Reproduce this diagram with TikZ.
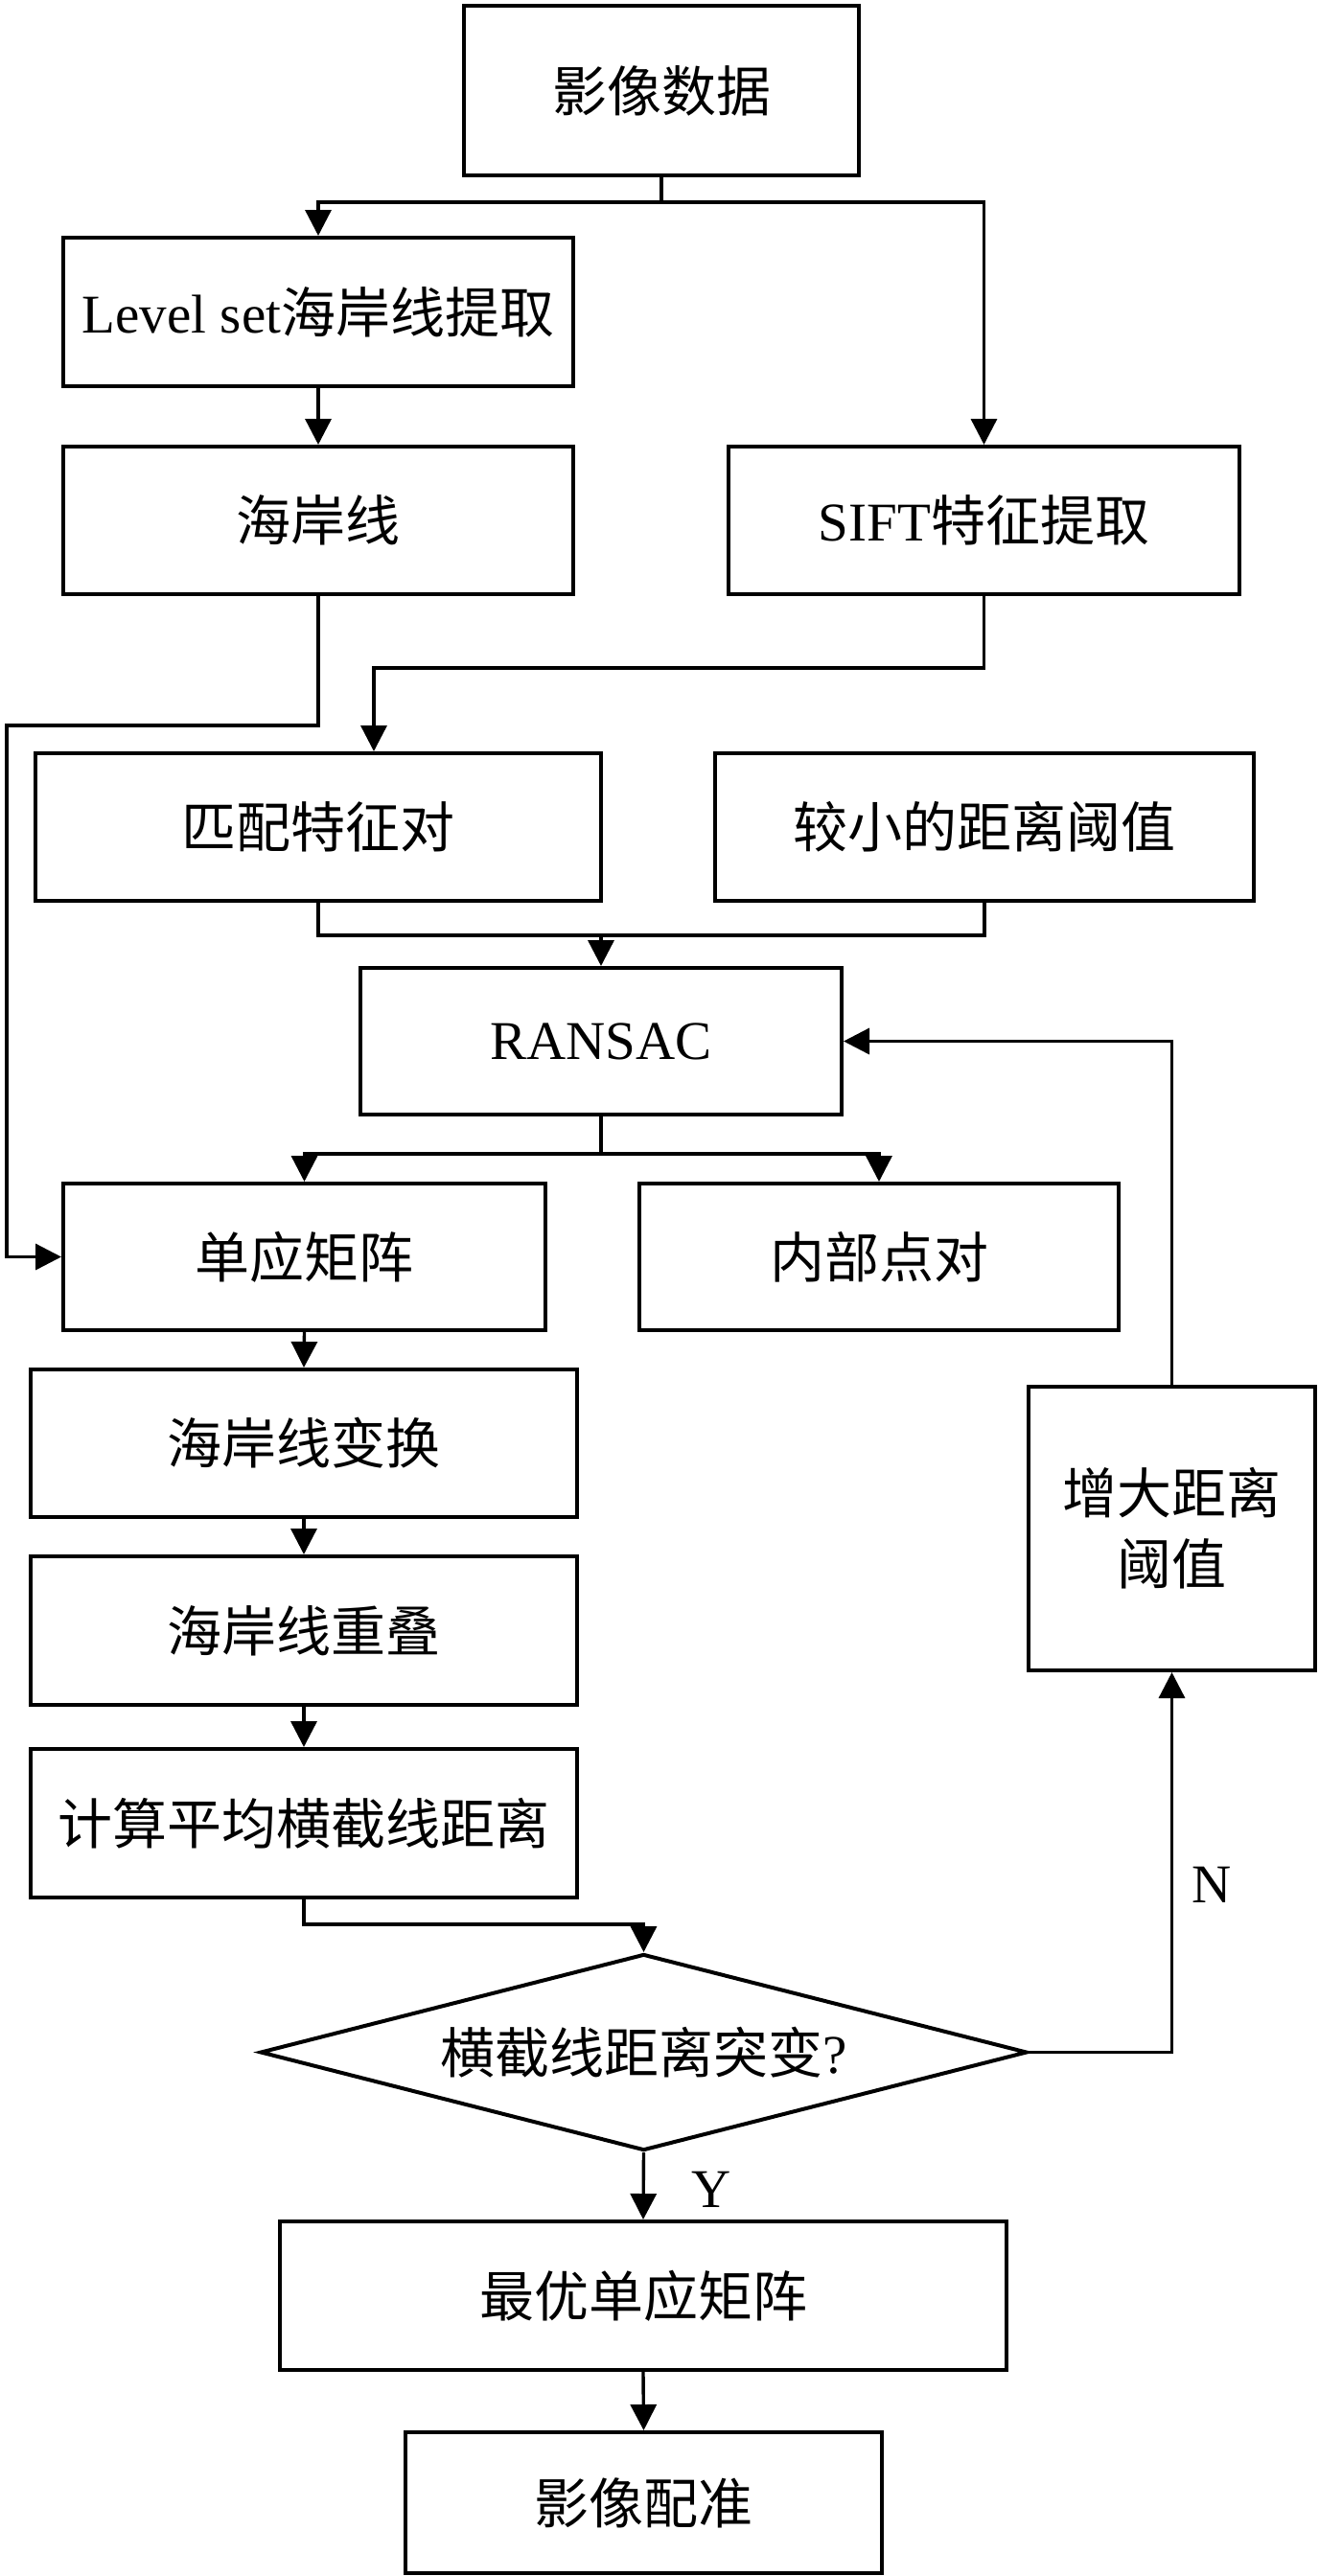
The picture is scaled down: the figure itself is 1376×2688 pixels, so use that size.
\documentclass[tikz,border=0pt]{standalone}
\usepackage{fontspec}
\setmainfont{Liberation Serif}
\newfontfamily\cjk{Noto Sans CJK SC}
\newfontfamily\lat{Liberation Serif}
\usetikzlibrary{arrows.meta,shapes.geometric}
\begin{document}
\begin{tikzpicture}[x=0.5pt,y=-0.5pt,
  box/.style={draw,line width=2pt,inner sep=0pt,align=center,font=\cjk\fontsize{28.5}{37}\selectfont},
  dia/.style={draw,line width=2pt,diamond,shape aspect=3.9,inner sep=0pt,font=\cjk\fontsize{28.5}{37}\selectfont},
  line/.style={line width=1.7pt},
  arr/.style={line width=1.7pt,-{Triangle[length=13.5pt,width=13.5pt]}},
  lbl/.style={font=\lat\fontsize{28.5}{34}\selectfont,inner sep=0pt}]
\useasboundingbox (0,0) rectangle (1376,2688);
\node[box,minimum width=206pt,minimum height=88.5pt] (data) at (690,94.5) {影像数据};
\node[box,minimum width=266pt,minimum height=77.5pt] (ls) at (332,325.5) {{\lat Level set}海岸线提取};
\node[box,minimum width=266pt,minimum height=77pt] (hax) at (332,543) {海岸线};
\node[box,minimum width=266.5pt,minimum height=77pt] (sift) at (1026.5,543) {{\lat SIFT}特征提取};
\node[box,minimum width=295pt,minimum height=77pt] (match) at (332,863) {匹配特征对};
\node[box,minimum width=281pt,minimum height=77pt] (small) at (1027,863) {较小的距离阈值};
\node[box,minimum width=251pt,minimum height=76.5pt] (ransac) at (627,1086.5) {{\lat RANSAC}};
\node[box,minimum width=251.5pt,minimum height=76.5pt] (homo) at (317.5,1311.5) {单应矩阵};
\node[box,minimum width=250pt,minimum height=76.5pt] (inner) at (917,1311.5) {内部点对};
\node[box,minimum width=285pt,minimum height=77pt] (trans) at (317,1506) {海岸线变换};
\node[box,minimum width=285pt,minimum height=77.5pt] (overlap) at (317,1701.5) {海岸线重叠};
\node[box,minimum width=285pt,minimum height=77.5pt] (calc) at (317,1902.5) {计算平均横截线距离};
\node[box,minimum width=149.5pt,minimum height=148pt] (inc) at (1222.5,1595) {增大距离\\阈值};
\node[dia,minimum width=400pt,minimum height=102.5pt] (dec) at (671.5,2141.5) {横截线距离突变{\lat ?}};
\node[box,minimum width=379pt,minimum height=77.5pt] (best) at (671,2395.5) {最优单应矩阵};
\node[box,minimum width=248.5pt,minimum height=73.5pt] (reg) at (671.5,2611.5) {影像配准};
% junction coordinates
\coordinate (j1) at (690,211);
\coordinate (j2) at (390,697);
\coordinate (j3) at (627,976);
\coordinate (j4) at (627,1204);
\coordinate (j5) at (671.5,2008);
\coordinate (jl1) at (7,757);
% connectors
\draw[line] (data.south) -- (j1);
\draw[arr] (j1) -| (ls.north);
\draw[arr] (j1) -| (sift.north);
\draw[arr] (ls.south) -- (hax.north);
\draw[arr] (hax.south) |- (jl1) |- (homo.west);
\draw[arr] (sift.south) |- (j2) -- (j2 |- match.north);
\draw[line] (match.south) |- (j3);
\draw[line] (small.south) |- (j3);
\draw[arr] (j3) -- (ransac.north);
\draw[line] (ransac.south) -- (j4);
\draw[arr] (j4) -| (homo.north);
\draw[arr] (j4) -| (inner.north);
\draw[arr] (homo.south) -- (trans.north);
\draw[arr] (trans.south) -- (overlap.north);
\draw[arr] (overlap.south) -- (calc.north);
\draw[arr] (calc.south) |- (j5) -- (dec.north);
\draw[arr] (dec.east) -| (inc.south);
\draw[arr] (inc.north) |- (ransac.east);
\draw[arr] (dec.south) -- (best.north);
\draw[arr] (best.south) -- (reg.north);
\node[lbl] (nlab) at (1264,1967) {N};
\node[lbl] (ylab) at (742,2285) {Y};
\end{tikzpicture}
\end{document}
